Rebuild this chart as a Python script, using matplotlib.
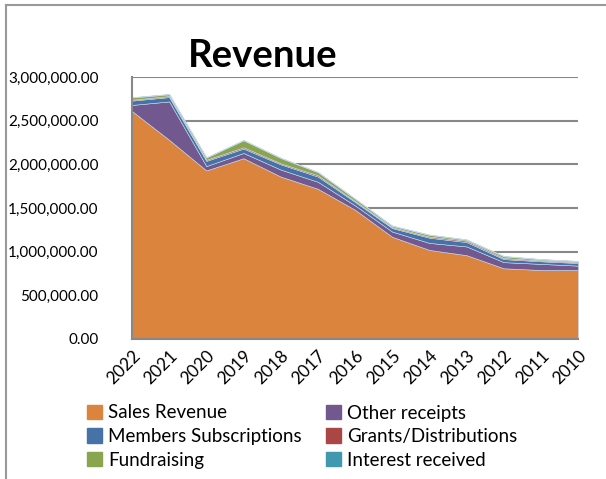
import matplotlib.pyplot as plt
from matplotlib.lines import Line2D
from matplotlib.patches import Patch
from matplotlib.ticker import FuncFormatter

plt.rcParams['font.family'] = ['Lato', 'DejaVu Sans']

years = ['2022', '2021', '2020', '2019', '2018', '2017', '2016',
         '2015', '2014', '2013', '2012', '2011', '2010']

sales = [2610000, 2280000, 1930000, 2070000, 1860000, 1720000, 1480000,
         1170000, 1020000, 960000, 810000, 790000, 790000]
other = [70000, 440000, 50000, 60000, 80000, 80000, 50000,
         60000, 80000, 100000, 70000, 70000, 50000]
members = [50000, 50000, 60000, 50000, 60000, 60000, 40000,
           40000, 60000, 50000, 35000, 30000, 30000]
grants = [10000, 12000, 12000, 15000, 12000, 15000, 10000,
          10000, 12000, 15000, 12000, 10000, 10000]
fundraising = [25000, 20000, 25000, 80000, 60000, 35000, 25000,
               15000, 20000, 12000, 20000, 12000, 10000]
interest = [5000, 5000, 5000, 5000, 5000, 5000, 5000,
            5000, 5000, 5000, 5000, 5000, 5000]

names = ['Sales Revenue', 'Other receipts', 'Members Subscriptions',
         'Grants/Distributions', 'Fundraising', 'Interest received']
colors = ['#DB843D', '#71588F', '#4572A7', '#AA4643', '#89A54E', '#4198AF']

fig = plt.figure(figsize=(6.06, 4.79), dpi=100)
ax = fig.add_axes([132/606, 1-339/479, (578-132)/606, (339-77)/479])

x = list(range(len(years)))
ax.stackplot(x, sales, other, members, grants, fundraising, interest,
             colors=colors, edgecolor='#c9d9ea', linewidth=0.4, zorder=3)

ax.set_xlim(0, len(years)-1)
ax.set_ylim(0, 3000000)
ax.set_yticks(range(0, 3000001, 500000))
ax.yaxis.set_major_formatter(FuncFormatter(lambda v, p: '{:,.2f}'.format(v)))
ax.set_xticks(x)
ax.set_xticklabels(years, rotation=45, ha='right', va='top',
                   rotation_mode='anchor', fontsize=12.5)
ax.tick_params(axis='y', length=0, pad=24, labelsize=11)
ax.tick_params(axis='x', length=0, pad=6)
ax.grid(axis='y', color='#888888', linewidth=1.5, zorder=0)
for s in ['top', 'right']:
    ax.spines[s].set_visible(False)
for s in ['left', 'bottom']:
    ax.spines[s].set_color('#888888')
    ax.spines[s].set_linewidth(1.5)
    ax.spines[s].set_zorder(4)

fig.text(263/606, 1-56/479, 'Revenue', fontsize=27.5, fontweight='bold',
         ha='center', va='center')

# 图例按列填充，所以要调顺序
order = [0, 2, 4, 1, 3, 5]
handles = [Patch(color=colors[i], label=names[i]) for i in order]
fig.legend(handles=handles, loc='upper left', bbox_to_anchor=(80/606, 1-397/479),
           ncol=2, frameon=False, fontsize=13.5, handlelength=0.8,
           handleheight=0.8, handletextpad=0.3, columnspacing=1.3,
           labelspacing=0.35, borderaxespad=0)

# 外框只露出左边和上边
fig.add_artist(Line2D([6/606, 6/606], [0, 1-5/479], color='#999999', linewidth=1.5))
fig.add_artist(Line2D([6/606, 1], [1-5/479, 1-5/479], color='#999999', linewidth=1.5))

plt.savefig('out.png', dpi=100)
